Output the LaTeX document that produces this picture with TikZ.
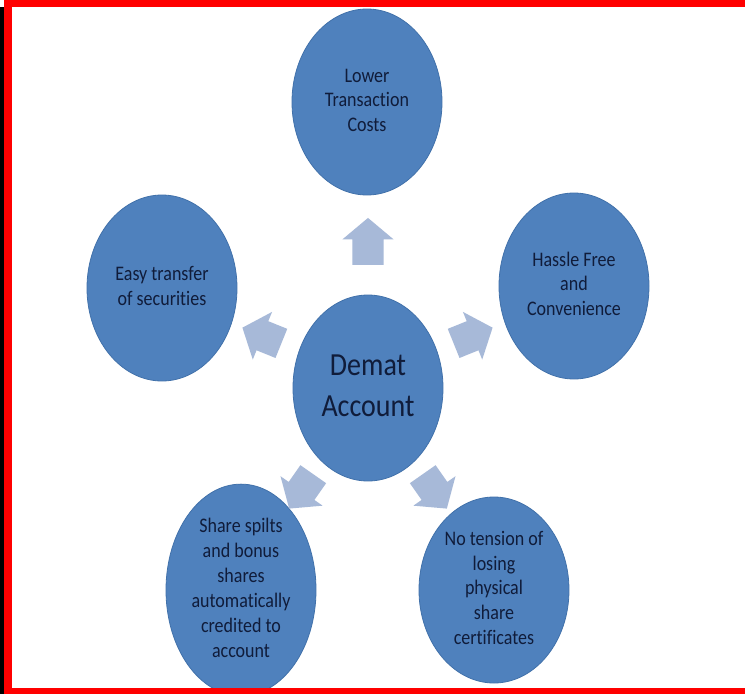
\documentclass[tikz,border=0pt]{standalone}
\usepackage{fontspec}
\setmainfont{Carlito}[Ligatures={NoCommon,NoContextual}]
\usepackage{graphicx}
\usetikzlibrary{shapes.geometric,shapes.arrows}

\definecolor{bubble}{RGB}{79,129,189}
\definecolor{bubbleline}{RGB}{65,113,170}
\definecolor{pointer}{RGB}{167,185,216}
\definecolor{ink}{RGB}{16,28,58}
\definecolor{frame}{RGB}{255,0,0}

\newcommand{\tall}[1]{\scalebox{1}[1.15]{\begin{tabular}{@{}c@{}}#1\end{tabular}}}

\begin{document}
\begin{tikzpicture}[x=1pt,y=-1pt]
	\tikzstyle{bubble}=[draw=bubbleline,line width=0.8pt,fill=bubble,shape=ellipse,inner sep=0pt,minimum width=150pt,minimum height=186pt,text=ink,font=\fontsize{18}{21.7}\selectfont]
	\tikzstyle{pointer}=[fill=pointer,shape=single arrow,inner xsep=0pt,inner ysep=15.5pt,minimum height=42pt,single arrow head extend=10pt,single arrow tip angle=100]

	\fill[white] (0,0) rectangle (745,694);
	\useasboundingbox (0,0) rectangle (745,694);

	\node[bubble,font=\fontsize{28}{36}\selectfont](demat) at (368,388){\tall{Demat\\Account}};

	\node[bubble](cost) at (367,102){\tall{Lower\\Transaction\\Costs}};
	\node[bubble](transfer) at (162,288){\tall{Easy transfer\\of securities}};
	\node[bubble](hassle) at (574,286){\tall{Hassle Free\\and\\Convenience}};
	\node[bubble](split) at (241,590){\tall{Share spilts\\and bonus\\shares\\automatically\\credited to\\account}};
	\node[bubble](tension) at (494,590){\tall{No tension of\\losing\\physical\\share\\certificates}};

	\node[pointer,rotate=90,minimum height=47pt](up) at (368,248){};
	\node[pointer,rotate=158](upleft) at (268,338){};
	\node[pointer,rotate=22](upright) at (467,338){};
	\node[pointer,rotate=235](downleft) at (305,486){};
	\node[pointer,rotate=305](downright) at (431,486){};

	% frame
	\fill[black] (0,7) rectangle (4,694);
	\fill[frame] (4,0) rectangle (745,7);
	\fill[frame] (4,0) rectangle (12,694);
	\fill[frame] (4,688) rectangle (745,694);

\end{tikzpicture}
\end{document}
